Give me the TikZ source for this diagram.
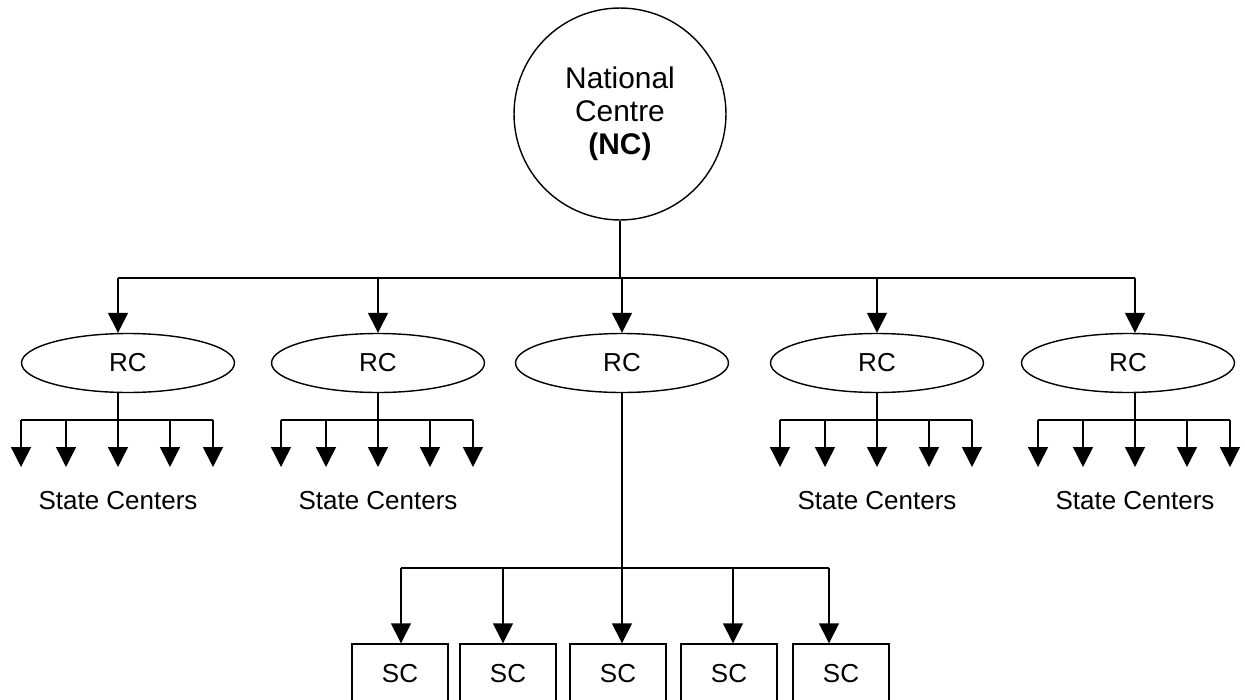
\documentclass[tikz,border=0pt]{standalone}
\usepackage{fontspec}
\setmainfont{Liberation Sans}
\usetikzlibrary{arrows.meta,shapes.geometric}

\begin{document}
\begin{tikzpicture}[
    x=0.02cm, y=-0.02cm, line width=0.8pt,
    >={Triangle[width=0.4cm,length=0.4cm]},
    every node/.append style={font=\fontsize{14.8}{18.5}\selectfont},
    hub/.style={draw, circle, minimum size=4.24cm, inner sep=0, align=center,
        font=\fontsize{17}{18.8}\selectfont},
    regional/.style={draw, ellipse, minimum width=4.26cm, minimum height=1.18cm, inner sep=0},
    scbox/.style={draw, minimum width=1.92cm, minimum height=1.2cm, inner sep=0}]
    \useasboundingbox (0,0) rectangle (1245,700);
    \clip (0,0) rectangle (1245,700);

    \node[hub] (nc) at (620,114) {National\\Centre\\\textbf{(NC)}};

    \node[regional] (rc1) at (128,363) {RC};
    \node[regional] (rc2) at (378,363) {RC};
    \node[regional] (rc3) at (622,363) {RC};
    \node[regional] (rc4) at (877,363) {RC};
    \node[regional] (rc5) at (1128,363) {RC};

    \node[scbox] (sc1) at (400,674) {SC};
    \node[scbox] (sc2) at (508,674) {SC};
    \node[scbox] (sc3) at (618,674) {SC};
    \node[scbox] (sc4) at (729,674) {SC};
    \node[scbox] (sc5) at (841,674) {SC};

    % top bar
    \coordinate (t1) at (118,278);
    \coordinate (t2) at (378,278);
    \coordinate (t3) at (622,278);
    \coordinate (t4) at (877,278);
    \coordinate (t5) at (1135,278);
    \draw (nc) -- (nc |- t3);
    \draw (t1) -- (t5);
    \path[->]
        (t1) edge (t1 |- rc1.north)
        (t2) edge (rc2)
        (t3) edge (rc3)
        (t4) edge (rc4)
        (t5) edge (t5 |- rc5.north);

    % state centers
    \foreach \g/\cx in {1/118, 2/378, 4/877, 5/1135} {
        \coordinate (s\g) at (\cx,420);
        \node (states\g) at (\cx,501) {State Centers};
        \draw (s\g |- rc\g.south) -- (s\g);
        \draw ([xshift=-1.94cm]s\g) -- ([xshift=1.9cm]s\g);
        \foreach \dx in {-1.94,-1.04,0,1.04,1.9}
            \draw[->] ([xshift=\dx cm]s\g) -- ++(0,47);
    }

    % middle branch
    \coordinate (m1) at (401,568);
    \coordinate (m2) at (503,568);
    \coordinate (m3) at (622,568);
    \coordinate (m4) at (733,568);
    \coordinate (m5) at (829,568);
    \draw (rc3) -- (m3);
    \draw (m1) -- (m5);
    \path[->]
        (m1) edge (m1 |- sc1.north)
        (m2) edge (m2 |- sc2.north)
        (m3) edge (m3 |- sc3.north)
        (m4) edge (m4 |- sc4.north)
        (m5) edge (m5 |- sc5.north);
\end{tikzpicture}
\end{document}
